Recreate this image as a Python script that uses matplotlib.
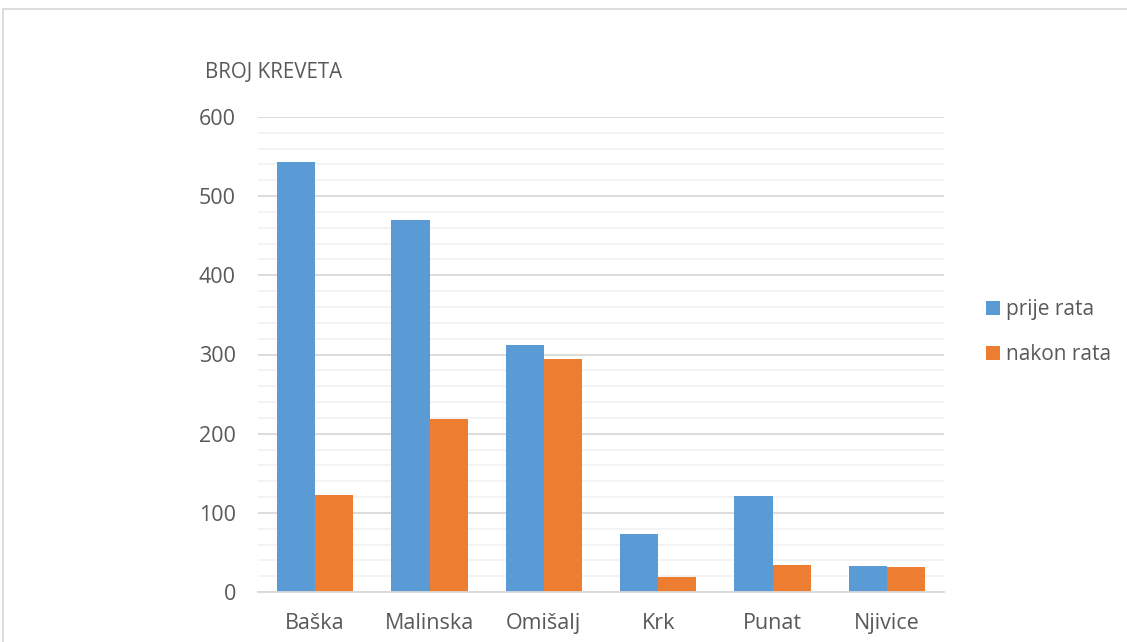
import numpy as np
import matplotlib.pyplot as plt
from matplotlib.patches import Rectangle

mjesta = ['Baška', 'Malinska', 'Omišalj', 'Krk', 'Punat', 'Njivice']
prije_rata = [543, 470, 312, 73, 121, 33]
nakon_rata = [122, 219, 294, 19, 34, 32]

plt.rcParams['font.family'] = ['Open Sans', 'DejaVu Sans']
siva = '#595959'

fig = plt.figure(figsize=(11.27, 6.42), dpi=100)
ax = fig.add_axes([258 / 1127, 1 - 592 / 642, 686 / 1127, 475 / 642])

x = np.arange(len(mjesta))
w = 1 / 3
ax.bar(x - w / 2, prije_rata, w, color='#5b9bd5', label='prije rata', zorder=3)
ax.bar(x + w / 2, nakon_rata, w, color='#ed7d31', label='nakon rata', zorder=3)

ax.set_xlim(-0.5, len(mjesta) - 0.5)
ax.set_ylim(0, 600)
ax.set_yticks(np.arange(0, 601, 100))
ax.set_yticks(np.arange(0, 601, 20), minor=True)
ax.grid(axis='y', which='major', color='#d9d9d9', lw=1.3, zorder=0)
ax.grid(axis='y', which='minor', color='#f2f2f2', lw=1.3, zorder=0)
ax.set_xticks(x)
ax.set_xticklabels(mjesta)
ax.tick_params(axis='both', which='both', length=0, labelsize=15.5, colors=siva)
ax.tick_params(axis='y', pad=16)
ax.tick_params(axis='x', pad=15)
for s in ['top', 'right', 'left']:
    ax.spines[s].set_visible(False)
ax.spines['bottom'].set_color('#d9d9d9')
ax.spines['bottom'].set_linewidth(1.3)
ax.spines['bottom'].set_zorder(4)

fig.text(205 / 1127, 1 - 72 / 642, 'BROJ KREVETA', fontsize=14.8, color=siva,
         va='center', ha='left')

leg = ax.legend(loc='center left', bbox_to_anchor=(976 / 1127, 1 - 332 / 642),
                bbox_transform=fig.transFigure, frameon=False, fontsize=15,
                handlelength=0.65, handleheight=0.65, handletextpad=0.3,
                labelspacing=1.15, borderpad=0)
for t in leg.get_texts():
    t.set_color(siva)

fig.patches.append(Rectangle((3 / 1127, -0.1), 1.2, 1 - 9 / 642 + 0.1,
                             transform=fig.transFigure, fill=False,
                             edgecolor='#d9d9d9', lw=1.3))

fig.savefig('out.png', dpi=100)
